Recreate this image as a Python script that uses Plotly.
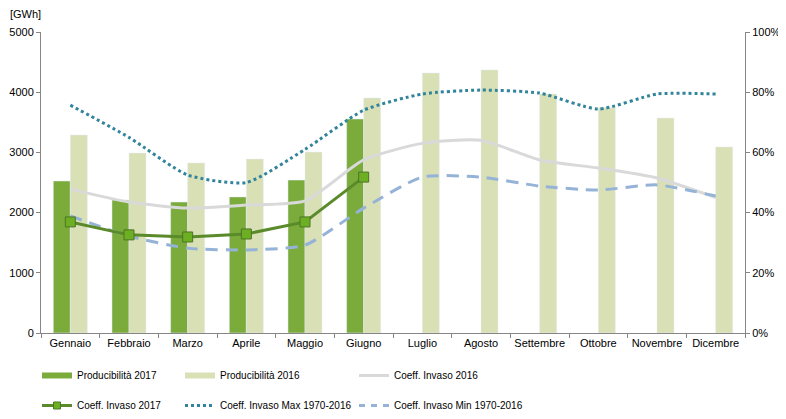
import plotly.graph_objects as go

months = ["Gennaio", "Febbraio", "Marzo", "Aprile", "Maggio", "Giugno",
          "Luglio", "Agosto", "Settembre", "Ottobre", "Novembre", "Dicembre"]
prod_2017 = [2525, 2210, 2175, 2260, 2540, 3555, None, None, None, None, None, None]
prod_2016 = [3290, 2990, 2825, 2890, 3005, 3905, 4320, 4370, 3970, 3740, 3570, 3090]
coeff_2016 = [0.478, 0.435, 0.415, 0.425, 0.439, 0.575, 0.630, 0.640, 0.575, 0.548, 0.515, 0.450]
coeff_2017 = [0.369, 0.326, 0.319, 0.329, 0.369, 0.518, None, None, None, None, None, None]
coeff_max = [0.757, 0.650, 0.525, 0.500, 0.610, 0.740, 0.794, 0.807, 0.797, 0.744, 0.794, 0.794]
coeff_min = [0.389, 0.322, 0.282, 0.276, 0.292, 0.415, 0.518, 0.518, 0.488, 0.475, 0.492, 0.455]

c17 = "#7AAB3B"
c16 = "#D9E0B5"
cgrey = "#D9D9D9"
cline17 = "#5B8A2B"
cmax = "#31849B"
cmin = "#95B3D7"

FONT = "Liberation Sans, Arial, sans-serif"

fig = go.Figure()
fig.add_trace(go.Bar(x=months, y=prod_2017, marker_color=c17, name="Producibilità 2017",
                     showlegend=False, offsetgroup="a"))
fig.add_trace(go.Bar(x=months, y=prod_2016, marker_color=c16, name="Producibilità 2016",
                     showlegend=False, offsetgroup="b"))
fig.add_trace(go.Scatter(x=months, y=coeff_2016, yaxis="y2", mode="lines", name="Coeff. Invaso 2016",
                         line=dict(color=cgrey, width=3, shape="spline", smoothing=0.6), showlegend=False))
fig.add_trace(go.Scatter(x=months, y=coeff_max, yaxis="y2", mode="lines", name="Coeff. Invaso Max 1970-2016",
                         line=dict(color=cmax, width=3, dash="dot", shape="spline", smoothing=0.6), showlegend=False))
fig.add_trace(go.Scatter(x=months, y=coeff_min, yaxis="y2", mode="lines", name="Coeff. Invaso Min 1970-2016",
                         line=dict(color=cmin, width=3, dash="12px,8px", shape="spline", smoothing=0.6), showlegend=False))
fig.add_trace(go.Scatter(x=months, y=coeff_2017, yaxis="y2", mode="lines+markers", name="Coeff. Invaso 2017",
                         line=dict(color=cline17, width=3),
                         marker=dict(symbol="square", size=10, color="#6DAF22",
                                     line=dict(color="#4E7426", width=1)),
                         showlegend=False))

# legend entries (no data), three vertical legends = three columns
def leg(name, legend, group, **kw):
    fig.add_trace(go.Scatter(x=[None], y=[None], name=name, legend=legend, legendgroup=group,
                             showlegend=True, **kw))

leg("Producibilità 2017", "legend", "a1", mode="lines", line=dict(color=c17, width=6))
leg("Coeff. Invaso 2017", "legend", "a2", mode="lines+markers", line=dict(color=cline17, width=3),
    marker=dict(symbol="square", size=7, color="#6DAF22", line=dict(color="#4E7426", width=1)))
leg("Producibilità 2016", "legend2", "b1", mode="lines", line=dict(color=c16, width=6))
leg("Coeff. Invaso Max 1970-2016", "legend2", "b2", mode="lines", line=dict(color=cmax, width=3, dash="dot"))
leg("Coeff. Invaso 2016", "legend3", "c1", mode="lines", line=dict(color=cgrey, width=3))
leg("Coeff. Invaso Min 1970-2016", "legend3", "c2", mode="lines", line=dict(color=cmin, width=3, dash="6px,6px"))

PW = 704.0
PH = 301.0
def lx(px):  # screen x of icon start -> paper x of legend
    return (px - 6 - 41) / PW

legend_common = dict(orientation="v", xanchor="left", yanchor="top",
                     font=dict(family=FONT, size=10, color="#000"),
                     bgcolor="rgba(0,0,0,0)", itemwidth=30, tracegroupgap=11,
                     y=-(361 - 333) / PH)

fig.update_layout(
    width=778, height=411,
    margin=dict(l=33, r=41, t=24, b=86, autoexpand=False),
    paper_bgcolor="white", plot_bgcolor="white",
    font=dict(family=FONT, size=11, color="#000"),
    barmode="group", bargap=0.42, bargroupgap=0,
    xaxis=dict(type="category", range=[-0.5, 11.5], showline=True, linecolor="#868686", linewidth=1,
               ticks="outside", tickson="boundaries", ticklen=4, tickcolor="#868686",
               showgrid=False, tickfont=dict(size=11), tickangle=0, automargin=False),
    yaxis=dict(range=[0, 5000], dtick=1000, showline=True, linecolor="#868686", linewidth=1,
               ticks="outside", ticklen=4, tickcolor="#868686", showgrid=False, zeroline=False,
               tickfont=dict(size=11), automargin=False),
    yaxis2=dict(range=[0, 1], dtick=0.2, tickformat=".0%", overlaying="y", side="right",
                showline=True, linecolor="#868686", linewidth=1, ticks="outside", ticklen=4,
                tickcolor="#868686", showgrid=False, zeroline=False, tickfont=dict(size=11),
                automargin=False),
    legend=dict(x=lx(43), **legend_common),
    legend2=dict(x=lx(186), **legend_common),
    legend3=dict(x=lx(360), **legend_common),
    annotations=[dict(text="[GWh]", x=(8 - 41) / PW, y=1 + (32 - 14) / PH, xref="paper", yref="paper",
                      showarrow=False, xanchor="left", yanchor="middle", font=dict(size=11))],
)

fig.write_html("out.html")
